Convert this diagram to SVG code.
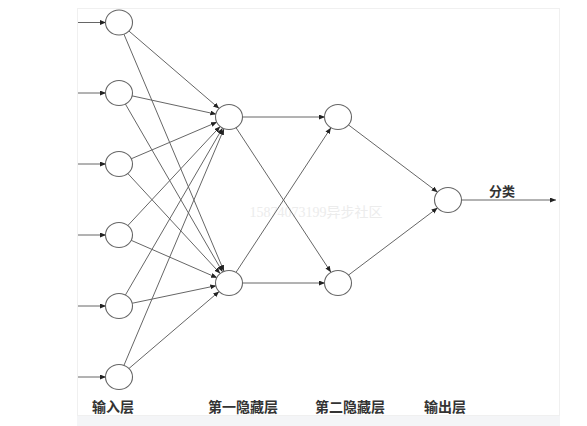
<svg xmlns="http://www.w3.org/2000/svg" width="587" height="426" viewBox="0 0 587 426">
<style>
.edge{stroke:#666;stroke-width:1;fill:none}
.node{fill:#fff;stroke:#666;stroke-width:1.1}
.lbl{font-family:"Liberation Serif","Noto Sans CJK SC",serif;font-size:14px;fill:#333;text-anchor:middle;font-weight:bold}
.wm{font-family:"Liberation Serif","Noto Sans CJK SC",serif;font-size:14px;fill:#ececec;text-anchor:middle}
</style>
<defs>
<marker id="ah" markerUnits="userSpaceOnUse" markerWidth="20" markerHeight="6" refX="19" refY="2.5" orient="auto">
<path d="M0,0 L6,2.5 L0,5 z" fill="#222"/>
</marker>
<marker id="ahe" markerUnits="userSpaceOnUse" markerWidth="7" markerHeight="6" refX="6" refY="2.5" orient="auto">
<path d="M0,0 L6,2.5 L0,5 z" fill="#222"/>
</marker>
</defs>
<rect x="0" y="0" width="587" height="426" fill="#fff"/>
<rect x="77" y="415" width="483" height="11" fill="#f4f5f7"/>
<rect x="77.5" y="8.5" width="482" height="407" fill="none" stroke="#f0f0f0"/>
<text class="wm" x="316" y="217">15874073199异步社区</text>
<g id="connectors">
<line class="edge" x1="78" y1="22.5" x2="119" y2="22.5" marker-end="url(#ah)"/>
<line class="edge" x1="78" y1="93" x2="119" y2="93" marker-end="url(#ah)"/>
<line class="edge" x1="78" y1="164" x2="119" y2="164" marker-end="url(#ah)"/>
<line class="edge" x1="78" y1="235" x2="119" y2="235" marker-end="url(#ah)"/>
<line class="edge" x1="78" y1="306" x2="119" y2="306" marker-end="url(#ah)"/>
<line class="edge" x1="78" y1="377" x2="119" y2="377" marker-end="url(#ah)"/>
<line class="edge" x1="119" y1="22.5" x2="229" y2="117" marker-end="url(#ah)"/>
<line class="edge" x1="119" y1="93" x2="229" y2="117" marker-end="url(#ah)"/>
<line class="edge" x1="119" y1="164" x2="229" y2="117" marker-end="url(#ah)"/>
<line class="edge" x1="119" y1="235" x2="229" y2="117" marker-end="url(#ah)"/>
<line class="edge" x1="119" y1="306" x2="229" y2="117" marker-end="url(#ah)"/>
<line class="edge" x1="119" y1="377" x2="229" y2="117" marker-end="url(#ah)"/>
<line class="edge" x1="119" y1="22.5" x2="229" y2="283" marker-end="url(#ah)"/>
<line class="edge" x1="119" y1="93" x2="229" y2="283" marker-end="url(#ah)"/>
<line class="edge" x1="119" y1="164" x2="229" y2="283" marker-end="url(#ah)"/>
<line class="edge" x1="119" y1="235" x2="229" y2="283" marker-end="url(#ah)"/>
<line class="edge" x1="119" y1="306" x2="229" y2="283" marker-end="url(#ah)"/>
<line class="edge" x1="119" y1="377" x2="229" y2="283" marker-end="url(#ah)"/>
<line class="edge" x1="229" y1="117" x2="338" y2="117" marker-end="url(#ah)"/>
<line class="edge" x1="229" y1="117" x2="338" y2="283" marker-end="url(#ah)"/>
<line class="edge" x1="229" y1="283" x2="338" y2="117" marker-end="url(#ah)"/>
<line class="edge" x1="229" y1="283" x2="338" y2="283" marker-end="url(#ah)"/>
<line class="edge" x1="338" y1="117" x2="448" y2="200" marker-end="url(#ah)"/>
<line class="edge" x1="338" y1="283" x2="448" y2="200" marker-end="url(#ah)"/>
<line class="edge" x1="461" y1="200" x2="556" y2="200" marker-end="url(#ahe)"/>
</g>
<g id="in1"><ellipse class="node" cx="119" cy="22.5" rx="13.5" ry="12.5"/></g>
<g id="in2"><ellipse class="node" cx="119" cy="93" rx="13.5" ry="12.5"/></g>
<g id="in3"><ellipse class="node" cx="119" cy="164" rx="13.5" ry="12.5"/></g>
<g id="in4"><ellipse class="node" cx="119" cy="235" rx="13.5" ry="12.5"/></g>
<g id="in5"><ellipse class="node" cx="119" cy="306" rx="13.5" ry="12.5"/></g>
<g id="in6"><ellipse class="node" cx="119" cy="377" rx="13.5" ry="12.5"/></g>
<g id="h1a"><ellipse class="node" cx="229" cy="117" rx="13.5" ry="12.5"/></g>
<g id="h1b"><ellipse class="node" cx="229" cy="283" rx="13.5" ry="12.5"/></g>
<g id="h2a"><ellipse class="node" cx="338" cy="117" rx="13.5" ry="12.5"/></g>
<g id="h2b"><ellipse class="node" cx="338" cy="283" rx="13.5" ry="12.5"/></g>
<g id="out"><ellipse class="node" cx="448" cy="200" rx="13.5" ry="12.5"/></g>
<g id="labels">
<text class="lbl" x="502" y="196" style="font-size:13px">分类</text>
<text class="lbl" x="113" y="412">输入层</text>
<text class="lbl" x="243" y="412">第一隐藏层</text>
<text class="lbl" x="350" y="412">第二隐藏层</text>
<text class="lbl" x="445" y="412">输出层</text>
</g>
</svg>
